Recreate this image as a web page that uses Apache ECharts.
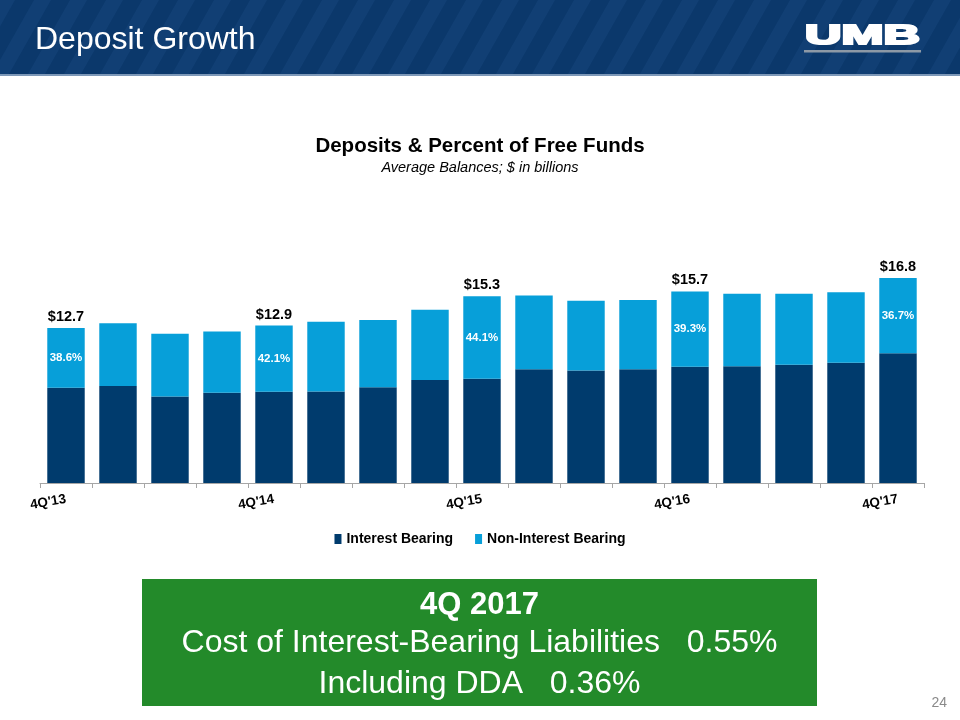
<!DOCTYPE html>
<html>
<head>
<meta charset="utf-8">
<script src="https://cdn.jsdelivr.net/npm/echarts@6/dist/echarts.min.js"></script>
<style>html,body{margin:0;padding:0;background:#fff;}#c{width:960px;height:720px;}</style>
</head>
<body>
<div id="c"></div>
<script>
// ---- data ----
const categories = ["4Q'13","1Q'14","2Q'14","3Q'14","4Q'14","1Q'15","2Q'15","3Q'15","4Q'15","1Q'16","2Q'16","3Q'16","4Q'16","1Q'17","2Q'17","3Q'17","4Q'17"];
const interestBearing = [7.80, 7.95, 7.10, 7.40, 7.47, 7.50, 7.85, 8.45, 8.55, 9.33, 9.22, 9.33, 9.53, 9.57, 9.69, 9.85, 10.63];
const nonInterestBearing = [4.90, 5.15, 5.13, 5.01, 5.43, 5.71, 5.52, 5.76, 6.75, 6.03, 5.71, 5.68, 6.17, 5.95, 5.83, 5.78, 6.17];
const totalLabels = ["$12.7", "", "", "", "$12.9", "", "", "", "$15.3", "", "", "", "$15.7", "", "", "", "$16.8"];
const freeFundsPct = ["38.6%", "", "", "", "42.1%", "", "", "", "44.1%", "", "", "", "39.3%", "", "", "", "36.7%"];
const seriesNames = ["Interest Bearing", "Non-Interest Bearing"];

const FONT = "'Liberation Sans', Arial, sans-serif";
const chart = echarts.init(document.getElementById('c'), null, {renderer: 'canvas'});

const totals = interestBearing.map((v, i) => +(v + nonInterestBearing[i]).toFixed(2));

// header stripes (decoration)
const stripes = [];
for (let x = -80; x < 1000; x += 36) {
  stripes.push({
    type: 'polygon', silent: true,
    shape: {points: [[x, 74], [x + 17, 74], [x + 17 + 42, 0], [x + 42, 0]]},
    style: {fill: 'rgba(40,90,150,0.22)'}
  });
}

const option = {
  animation: false,
  textStyle: {fontFamily: FONT},
  title: [
    {text: 'Deposits & Percent of Free Funds', left: 'center', top: 131,
     textStyle: {fontFamily: FONT, fontSize: 20.5, fontWeight: 'bold', color: '#000'}},
    {text: 'Average Balances; $ in billions', left: 'center', top: 155,
     textStyle: {fontFamily: FONT, fontSize: 14.5, fontStyle: 'italic', fontWeight: 'normal', color: '#000'}}
  ],
  legend: {
    data: seriesNames, top: 527, left: 'center', icon: 'rect',
    itemWidth: 7, itemHeight: 10, itemGap: 22,
    textStyle: {fontFamily: FONT, fontSize: 14, fontWeight: 'bold', color: '#000'}
  },
  grid: {left: 40, right: 36, top: 239, bottom: 237},
  xAxis: {
    type: 'category', data: categories,
    axisLine: {lineStyle: {color: '#a6a6a6', width: 1}},
    axisTick: {show: true, interval: 0, length: 5, lineStyle: {color: '#a6a6a6'}},
    axisLabel: {interval: 3, rotate: 10, margin: 16, fontFamily: FONT, fontSize: 13.5, fontWeight: 'bold', color: '#000'}
  },
  yAxis: {type: 'value', min: 0, max: 20, show: false, splitLine: {show: false}},
  series: [
    {name: seriesNames[0], type: 'bar', stack: 'dep', data: interestBearing,
     barCategoryGap: '28%', itemStyle: {color: '#003b6d'}},
    {name: seriesNames[1], type: 'bar', stack: 'dep',
     data: nonInterestBearing.map((v, i) => ({value: v, label: {show: freeFundsPct[i] !== '', formatter: freeFundsPct[i]}})),
     itemStyle: {color: '#079fd9'},
     label: {position: 'inside', color: '#fff', fontFamily: FONT, fontSize: 11.5, fontWeight: 'bold'}},
    {name: 'Total', type: 'line',
     data: totals.map((v, i) => ({value: v, label: {show: totalLabels[i] !== '', formatter: totalLabels[i]}})),
     symbol: 'circle', symbolSize: 1, showSymbol: true, itemStyle: {color: 'rgba(0,0,0,0)'},
     lineStyle: {width: 0, color: 'rgba(0,0,0,0)'}, silent: true,
     label: {position: 'top', distance: 3, color: '#000', fontFamily: FONT, fontSize: 14.5, fontWeight: 'bold'}}
  ],
  graphic: [
    {type: 'rect', silent: true, shape: {x: 0, y: 0, width: 960, height: 74}, style: {fill: '#0b386b'}},
    {type: 'group', silent: true, children: stripes},
    {type: 'rect', silent: true, shape: {x: 0, y: 74, width: 960, height: 2}, style: {fill: '#7d98b8'}},
    {type: 'text', silent: true, x: 35, y: 40,
     style: {text: 'Deposit Growth', fill: '#fff', font: '32px ' + FONT, textVerticalAlign: 'middle'}},
    {type: 'group', silent: true, x: 805, y: 36.5, scaleX: 1.8, scaleY: 1,
     children: [{type: 'text', x: 0, y: 0,
       style: {text: 'UMB', fill: '#fff', stroke: '#fff', lineWidth: 2.2, font: 'bold 28px ' + FONT, textVerticalAlign: 'middle'}}]},
    {type: 'rect', silent: true, shape: {x: 804, y: 50, width: 117, height: 2.5}, style: {fill: '#8d99a6'}},
    {type: 'rect', silent: true, shape: {x: 142, y: 579, width: 675, height: 127}, style: {fill: '#238a2a'}},
    {type: 'text', silent: true, x: 479.5, y: 605,
     style: {text: '4Q 2017', fill: '#fff', font: 'bold 31px ' + FONT, textAlign: 'center', textVerticalAlign: 'middle'}},
    {type: 'text', silent: true, x: 479.5, y: 643,
     style: {text: 'Cost of Interest-Bearing Liabilities   0.55%', fill: '#fff', font: '32px ' + FONT, textAlign: 'center', textVerticalAlign: 'middle'}},
    {type: 'text', silent: true, x: 479.5, y: 684,
     style: {text: 'Including DDA   0.36%', fill: '#fff', font: '32px ' + FONT, textAlign: 'center', textVerticalAlign: 'middle'}},
    {type: 'text', silent: true, x: 947, y: 703,
     style: {text: '24', fill: '#8a8a8a', font: '14px ' + FONT, textAlign: 'right', textVerticalAlign: 'middle'}}
  ]
};
chart.setOption(option);
</script>
</body>
</html>
